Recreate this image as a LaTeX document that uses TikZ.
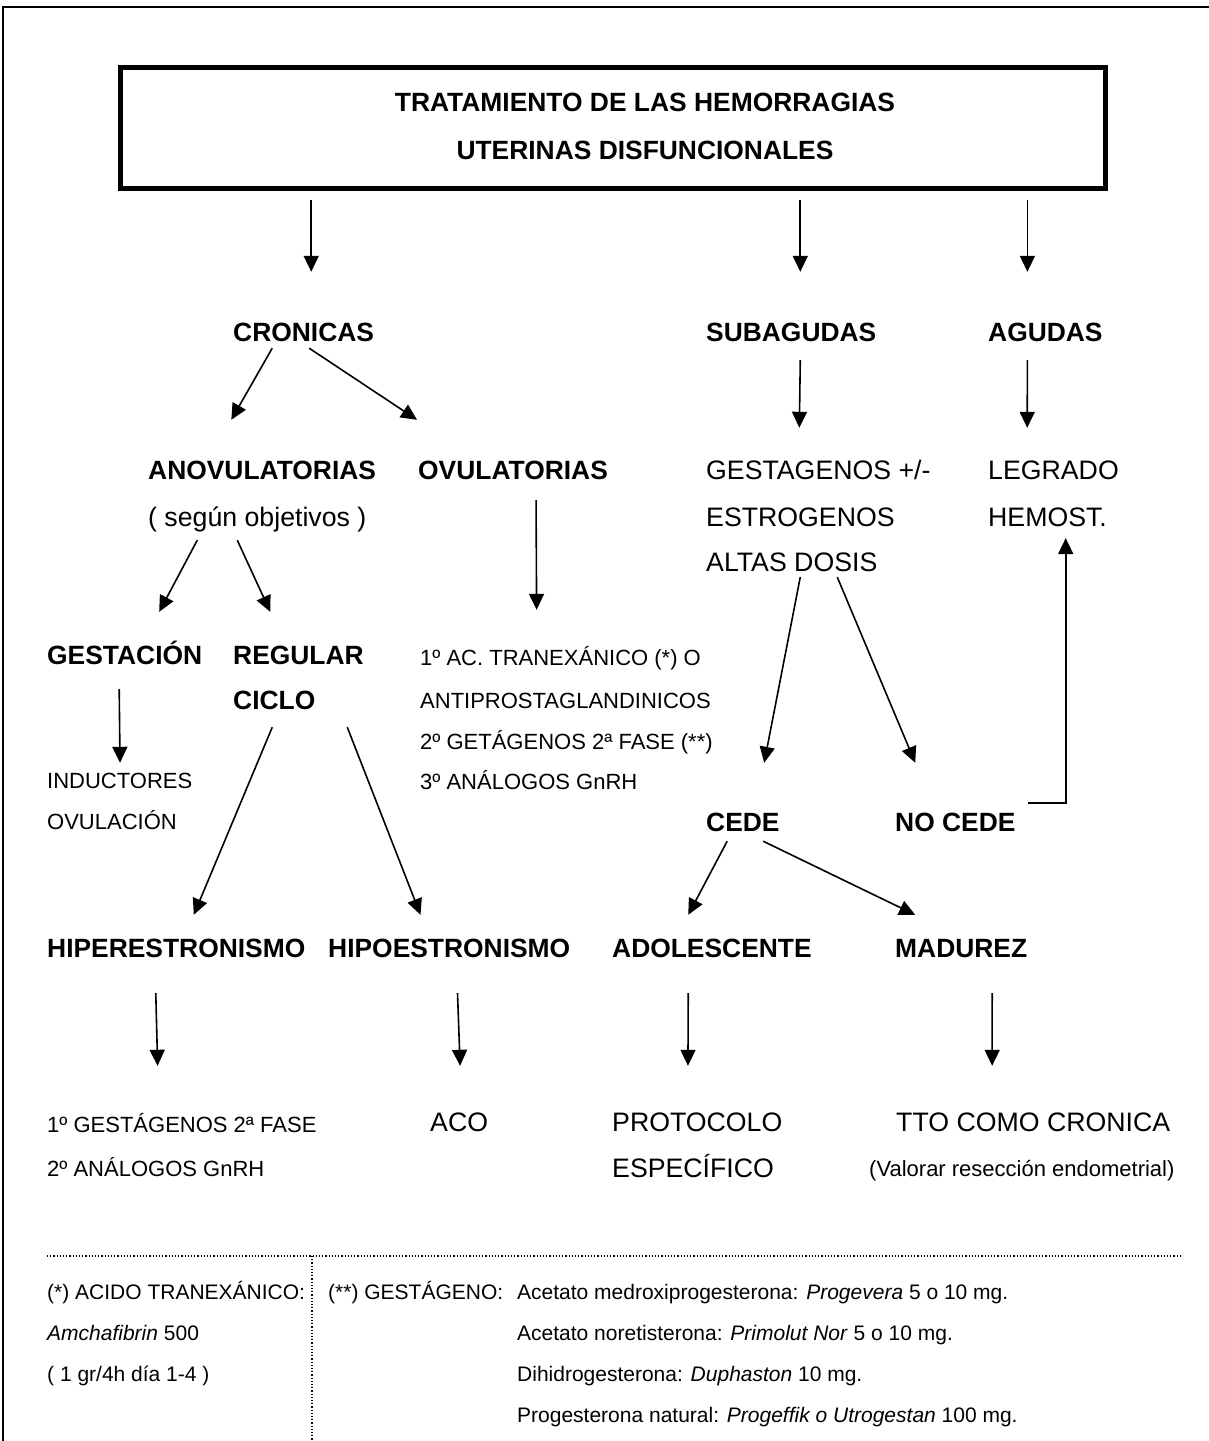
\documentclass[tikz,border=0pt]{standalone}
\usepackage{fontspec}
\setmainfont{Liberation Sans}
\usetikzlibrary{arrows.meta}

\begin{document}
\begin{tikzpicture}[
  x=1pt, y=-1pt,
  lbl/.style={inner sep=0pt, anchor=west, text depth=0pt},
  hd/.style={lbl, font=\bfseries\fontsize{26.4}{30}\selectfont, text height=19pt},
  tx/.style={lbl, font=\fontsize{26.7}{30}\selectfont, text height=19pt},
  sm/.style={lbl, font=\fontsize{22}{26}\selectfont, text height=16pt},
  fn/.style={lbl, font=\fontsize{21}{25}\selectfont, text height=15pt},
  titlebox/.style={draw, line width=5pt, inner sep=0pt, minimum width=985pt, minimum height=121pt},
  ttl/.style={inner sep=0pt, align=center, font=\bfseries\fontsize{26.4}{48}\selectfont},
  arrow/.style={-{Triangle[length=16pt,width=15pt]}, line width=1.6pt},
  sep/.style={dotted, line width=1.2pt}
]
\useasboundingbox (0,0) rectangle (1209,1441);
\draw[line width=2.5pt] (3,1441) -- (3,7) -- (1209,7);

% title
\node[titlebox] (title) at (612.5,128) {};
\node[ttl] (ttltext) at (645,126) {TRATAMIENTO DE LAS HEMORRAGIAS\\UTERINAS DISFUNCIONALES};

% first level
\node[hd] (cronicas) at (233,332) {CRONICAS};
\node[hd] (subag) at (706,332) {SUBAGUDAS};
\node[hd] (agudas) at (988,332) {AGUDAS};

% second level
\node[hd] (anovul) at (148,470) {ANOVULATORIAS};
\node[tx] (segun) at (148,517) {( según objetivos )};
\node[hd] (ovul) at (418,470) {OVULATORIAS};
\node[tx] (gest) at (706,470) {GESTAGENOS +/-};
\node[tx] (estr) at (706,517) {ESTROGENOS};
\node[tx] (altas) at (706,562) {ALTAS DOSIS};
\node[tx] (legrado) at (988,470) {LEGRADO};
\node[tx] (hemost) at (988,517) {HEMOST.};

% third level
\node[hd] (gestacion) at (47,655) {GESTACIÓN};
\node[hd] (regular) at (233,655) {REGULAR};
\node[hd] (ciclo) at (233,700) {CICLO};
\node[sm] (tran) at (420,657) {1º AC. TRANEXÁNICO (*) O};
\node[sm] (anti) at (420,700) {ANTIPROSTAGLANDINICOS};
\node[sm] (getag) at (420,741) {2º GETÁGENOS 2ª FASE (**)};
\node[sm] (analog1) at (420,781) {3º ANÁLOGOS GnRH};
\node[sm] (induct) at (47,780) {INDUCTORES};
\node[sm] (ovulac) at (47,821) {OVULACIÓN};
\node[hd] (cede) at (706,822) {CEDE};
\node[hd] (nocede) at (895,822) {NO CEDE};

% fourth level
\node[hd] (hiper) at (47,948) {HIPERESTRONISMO};
\node[hd] (hipo) at (328,948) {HIPOESTRONISMO};
\node[hd] (adol) at (612,948) {ADOLESCENTE};
\node[hd] (madurez) at (895,948) {MADUREZ};

% treatments
\node[sm] (gestag) at (47,1124) {1º GESTÁGENOS 2ª FASE};
\node[sm] (analog2) at (47,1168) {2º ANÁLOGOS GnRH};
\node[tx] (aco) at (430,1122) {ACO};
\node[tx] (proto) at (612,1122) {PROTOCOLO};
\node[tx] (espec) at (612,1168) {ESPECÍFICO};
\node[tx] (tto) at (896,1122) {TTO COMO CRONICA};
\node[sm] (valorar) at (869,1168) {(Valorar resección endometrial)};

% arrows
\draw[arrow] ([shift={(7.6,9)}]title.south -| cronicas.north) -- ([shift={(7.6,-50.5)}]cronicas.north);
\draw[arrow] ([shift={(9,9)}]title.south -| subag.north) -- ([shift={(9,-50.5)}]subag.north);
\draw[arrow] ([shift={(-18,9)}]title.south -| agudas.north) -- ([shift={(-18,-50.5)}]agudas.north);
\draw[arrow] ([shift={(-31.4,6.5)}]cronicas.south) -- ([shift={(-30.8,-40.5)}]anovul.north);
\draw[arrow] ([shift={(5.6,6.5)}]cronicas.south) -- ([shift={(-96,-40.5)}]ovul.north);
\draw[arrow] ([shift={(9,18.5)}]subag.south) -- ([shift={(-19,-32.5)}]gest.north);
\draw[arrow] ([shift={(-18,18.5)}]agudas.south) -- ([shift={(-26.3,-32.5)}]legrado.north);
\draw[arrow] ([shift={(-60,13.5)}]segun.south) -- ([shift={(34.5,-33.5)}]gestacion.north);
\draw[arrow] ([shift={(-20,13.5)}]segun.south) -- ([shift={(-28.2,-33.5)}]regular.north);
\draw[arrow] ([shift={(23,20.5)}]ovul.south) -- ([shift={(-23.9,-39)}]tran.north);
\draw[arrow] ([shift={(-5.5,24.5)}]gestacion.south) -- ([shift={(0.3,-9)}]induct.north);
\draw[arrow] ([shift={(-2,17.5)}]ciclo.south) -- ([shift={(17.5,-23.5)}]hiper.north);
\draw[arrow] ([shift={(73,17.5)}]ciclo.south) -- ([shift={(-28.7,-23.5)}]hipo.north);
\draw[arrow] ([shift={(8.5,5.4)}]altas.south) -- ([shift={(21.3,-49.5)}]cede.north);
\draw[arrow] ([shift={(45.5,5.4)}]altas.south) -- ([shift={(-40.1,-49.5)}]nocede.north);
\draw[arrow] ([shift={(12.7,-19)}]nocede.east) -| ([shift={(18.2,11.4)}]hemost.south);
\draw[arrow] ([shift={(-15.7,9.5)}]cede.south) -- ([shift={(-23.7,-23.5)}]adol.north);
\draw[arrow] ([shift={(20.3,9.5)}]cede.south) -- ([shift={(-46,-23.5)}]madurez.north);
\draw[arrow] ([shift={(-20.5,35.5)}]hiper.south) -- ([shift={(-24.2,-50)}]gestag.north);
\draw[arrow] ([shift={(8.3,35.5)}]hipo.south) -- ([shift={(1,-46.5)}]aco.north);
\draw[arrow] ([shift={(-23.7,35.5)}]adol.south) -- ([shift={(-9.3,-46.5)}]proto.north);
\draw[arrow] ([shift={(31,35.5)}]madurez.south) -- ([shift={(-41,-46.5)}]tto.north);

% footnotes
\draw[sep] (47,1256) -- (1180,1256);
\draw[sep] (312,1256) -- (312,1441);
\node[fn] (fn1) at (47,1292) {(*) ACIDO TRANEXÁNICO:};
\node[fn] (fn2) at (47,1333) {\textit{Amchafibrin} 500};
\node[fn] (fn3) at (47,1374) {( 1 gr/4h día 1-4 )};
\node[fn] (fn4) at (328,1292) {(**) GESTÁGENO:};
\node[fn] (fn5) at (517,1292) {Acetato medroxiprogesterona: \textit{Progevera} 5 o 10 mg.};
\node[fn] (fn6) at (517,1333) {Acetato noretisterona: \textit{Primolut Nor} 5 o 10 mg.};
\node[fn] (fn7) at (517,1374) {Dihidrogesterona: \textit{Duphaston} 10 mg.};
\node[fn] (fn8) at (517,1415) {Progesterona natural: \textit{Progeffik o Utrogestan} 100 mg.};
\end{tikzpicture}
\end{document}
